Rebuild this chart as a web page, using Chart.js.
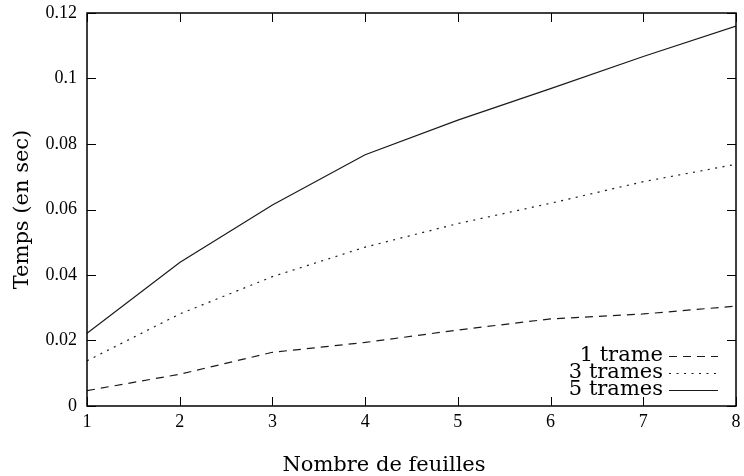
<!DOCTYPE html>
<html>
<head>
<meta charset="utf-8">
<script src="https://cdn.jsdelivr.net/npm/chart.js@4/dist/chart.umd.min.js"></script>
<style>
html,body{margin:0;padding:0;background:#fff;}
#wrap{width:744px;height:476px;position:relative;}
</style>
</head>
<body>
<div id="wrap"><canvas id="c" width="744" height="476"></canvas></div>
<script>
const categories = [1, 2, 3, 4, 5, 6, 7, 8];
const seriesNames = ["1 trame", "3 trames", "5 trames"];
const trame1 = [0.0047, 0.0097, 0.0164, 0.0194, 0.0232, 0.0266, 0.0281, 0.0305];
const trames3 = [0.0138, 0.0281, 0.0395, 0.0485, 0.0557, 0.0619, 0.0685, 0.0738];
const trames5 = [0.0222, 0.0438, 0.0614, 0.0767, 0.0873, 0.0969, 0.1067, 0.1160];
const yTicks = [0, 0.02, 0.04, 0.06, 0.08, 0.1, 0.12];
const xTitle = "Nombre de feuilles";
const yTitle = "Temps (en sec)";

const FONT = "'Liberation Serif', 'DejaVu Serif', serif";
const TITLE_FONT = "'DejaVu Serif', 'Liberation Serif', serif";

function pts(arr){ return categories.map((x,i)=>({x:x, y:arr[i]})); }

const dashes = [[8,6],[2,5.5],[]];
const allSeries = [trame1, trames3, trames5];

const mirrorTicks = {
  id: 'mirrorTicks',
  afterDraw(chart){
    const ctx = chart.ctx, a = chart.chartArea;
    const xs = chart.scales.x, ys = chart.scales.y;
    const L = 9;
    ctx.save();
    ctx.strokeStyle = '#000';
    ctx.lineWidth = 1;
    ctx.beginPath();
    xs.ticks.forEach(t=>{
      const px = Math.round(xs.getPixelForValue(t.value)) + 0.5;
      ctx.moveTo(px, a.bottom); ctx.lineTo(px, a.bottom - L);
      ctx.moveTo(px, a.top); ctx.lineTo(px, a.top + L);
    });
    ys.ticks.forEach(t=>{
      const py = Math.round(ys.getPixelForValue(t.value)) + 0.5;
      ctx.moveTo(a.left, py); ctx.lineTo(a.left + L, py);
      ctx.moveTo(a.right, py); ctx.lineTo(a.right - L, py);
    });
    ctx.stroke();
    ctx.lineWidth = 1.5;
    ctx.strokeRect(a.left, a.top, a.right - a.left, a.bottom - a.top);
    // x axis title (offset to the left like the reference)
    ctx.font = "21px " + TITLE_FONT;
    ctx.fillStyle = '#000';
    ctx.textAlign = 'center';
    ctx.textBaseline = 'alphabetic';
    ctx.fillText(xTitle, 384, 471);
    // legend inside plot
    ctx.textAlign = 'right';
    ctx.textBaseline = 'middle';
    const textRight = a.right - 73;
    const sx0 = a.right - 67, sx1 = a.right - 18;
    chart.data.datasets.forEach((ds, i)=>{
      const yy = a.bottom - 50 + i * 17;
      ctx.fillText(ds.label, textRight, yy);
      ctx.save();
      ctx.strokeStyle = ds.borderColor;
      ctx.lineWidth = ds.borderWidth;
      ctx.setLineDash(ds.borderDash);
      ctx.beginPath();
      ctx.moveTo(sx0, yy + 0.5); ctx.lineTo(sx1, yy + 0.5);
      ctx.stroke();
      ctx.restore();
    });
    ctx.restore();
  }
};

new Chart(document.getElementById('c'), {
  type: 'line',
  data: {
    datasets: seriesNames.map((name, i)=>({
      label: name,
      data: pts(allSeries[i]),
      borderColor: '#1a1a1a',
      borderWidth: 1.2,
      borderDash: dashes[i],
      pointRadius: 0,
      fill: false,
      tension: 0
    }))
  },
  options: {
    responsive: false,
    animation: false,
    devicePixelRatio: 1,
    layout: { padding: { top: 13, right: 8, left: 0, bottom: 0 } },
    plugins: { legend: { display: false }, tooltip: { enabled: false } },
    scales: {
      x: {
        type: 'linear', min: 1, max: 8,
        afterBuildTicks(s){ s.ticks = categories.map(v=>({value:v})); },
        afterFit(s){ s.height = 70; s.paddingLeft = 0; s.paddingRight = 0; },
        grid: { display: false, drawTicks: false },
        border: { display: false },
        ticks: { color: '#000', font: { family: FONT, size: 18 }, padding: 5, maxRotation: 0,
                 callback: v => String(v) },
        title: { display: false, text: xTitle }
      },
      y: {
        type: 'linear', min: 0, max: 0.12,
        afterBuildTicks(s){ s.ticks = yTicks.map(v=>({value:v})); },
        afterFit(s){ s.width = 87; s.paddingTop = 0; s.paddingBottom = 0; },
        grid: { display: false, drawTicks: false },
        border: { display: false },
        ticks: { color: '#000', font: { family: FONT, size: 18 }, padding: 10,
                 callback: v => String(+v.toFixed(2)) },
        title: { display: true, text: yTitle, color: '#000', font: { family: TITLE_FONT, size: 21 },
                 padding: { top: 10, bottom: 0 } }
      }
    }
  },
  plugins: [mirrorTicks]
});
</script>
</body>
</html>
